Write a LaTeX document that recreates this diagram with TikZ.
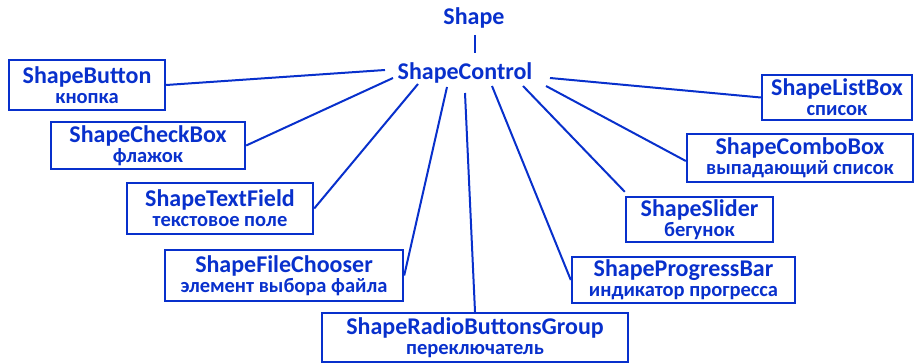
\documentclass[tikz,border=0pt]{standalone}
\usepackage{fontspec}
\setmainfont{Carlito}
\usetikzlibrary{calc}
\definecolor{bl}{RGB}{8,48,204}
\begin{document}
\begin{tikzpicture}[x=1pt,y=-1pt,
  every node/.style={text=bl,font=\bfseries},
  cls/.style={draw=bl,line width=2.4pt,inner sep=0pt,align=center,
    font=\bfseries\fontsize{24}{21}\selectfont},
  conn/.style={draw=bl,line width=2pt}]
\useasboundingbox (0,0) rectangle (920,363);
\newcommand{\cl}[2]{#1\\[-1pt]{\fontsize{20.5}{21}\selectfont #2}}
\node[font=\bfseries\fontsize{24}{24}\selectfont] (shape) at (474,18) {Shape};
\node[font=\bfseries\fontsize{24}{24}\selectfont] (ctrl) at (465,73) {ShapeControl};
\node[cls,minimum width=156,minimum height=50] (button) at (87,85) {\cl{ShapeButton}{кнопка}};
\node[cls,minimum width=194,minimum height=47] (check) at (148,145.5) {\cl{ShapeCheckBox}{флажок}};
\node[cls,minimum width=186,minimum height=51] (textf) at (220,208.5) {\cl{ShapeTextField}{текстовое поле}};
\node[cls,minimum width=238,minimum height=51] (file) at (284,275.5) {\cl{ShapeFileChooser}{элемент выбора файла}};
\node[cls,minimum width=306,minimum height=49] (radio) at (475,337.5) {\cl{ShapeRadioButtonsGroup}{переключатель}};
\node[cls,minimum width=150,minimum height=45] (list) at (837,97.5) {\cl{ShapeListBox}{список}};
\node[cls,minimum width=226,minimum height=48] (combo) at (800,158) {\cl{ShapeComboBox}{выпадающий список}};
\node[cls,minimum width=147,minimum height=45] (slider) at (699.5,219.5) {\cl{ShapeSlider}{бегунок}};
\node[cls,minimum width=223,minimum height=46] (prog) at (683.5,280) {\cl{ShapeProgressBar}{индикатор прогресса}};
\draw[conn] ([shift={(1,17)}]shape.center) -- ([shift={(10,-20)}]ctrl.center);
\draw[conn] ([shift={(-80,-3)}]ctrl.center) -- (button.east);
\draw[conn] ([shift={(-72,5)}]ctrl.center) -- (check.east);
\draw[conn] ([shift={(-47,11)}]ctrl.center) -- (textf.east);
\draw[conn] ([shift={(-18,14)}]ctrl.center) -- (file.east);
\draw[conn] ([shift={(0,20)}]ctrl.center) -- (radio.north);
\draw[conn] ([shift={(27,13)}]ctrl.center) -- (prog.west);
\draw[conn] ([shift={(58,13)}]ctrl.center) -- ([yshift=4]slider.north west);
\draw[conn] ([shift={(81,13)}]ctrl.center) -- ([yshift=-3]combo.west);
\draw[conn] ([shift={(85,5)}]ctrl.center) -- (list.west);
\end{tikzpicture}
\end{document}
